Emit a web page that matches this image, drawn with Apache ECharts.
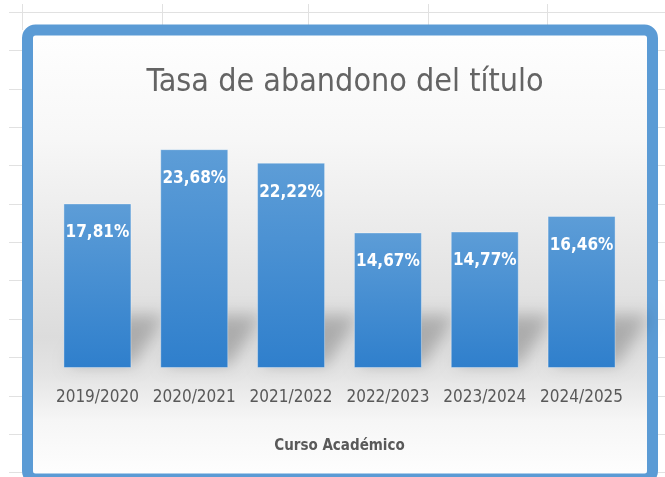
<!DOCTYPE html>
<html>
<head>
<meta charset="utf-8">
<title>Tasa de abandono del título</title>
<script src="https://cdn.jsdelivr.net/npm/echarts@6/dist/echarts.min.js"></script>
<style>
  html, body { margin: 0; padding: 0; background: #ffffff; }
  #container { width: 665px; height: 477px; }
</style>
</head>
<body>
<div id="container"></div>
<script>
var dom = document.getElementById("container");
var myChart = echarts.init(dom);

// datos del gráfico
var cursos = ['2019/2020', '2020/2021', '2021/2022', '2022/2023', '2023/2024', '2024/2025'];
var tasaAbandono = [17.81, 23.68, 22.22, 14.67, 14.77, 16.46];

var FONT = "'DejaVu Sans Condensed', 'Liberation Sans Narrow', sans-serif";
var GRIS = '#595959';
var BAR_W = 68;

// lineas de la hoja de calculo detras del grafico
var hoja = [];
for (var k = 0; k < 13; k++) {
    var y = Math.round(12 + 38.35 * k) + 0.5;
    hoja.push({ type: 'line', shape: { x1: 9, y1: y, x2: 665, y2: y }, style: { stroke: '#e1e1e1', lineWidth: 1 } });
}
[22, 162, 308, 428, 547].forEach(function (x) {
    hoja.push({ type: 'line', shape: { x1: x + 0.5, y1: 4, x2: x + 0.5, y2: 30 }, style: { stroke: '#e1e1e1', lineWidth: 1 } });
});

// marco azul con degradado de fondo
hoja.push({
    type: 'rect',
    shape: { x: 27.5, y: 30, width: 625, height: 449, r: 8 },
    style: {
        fill: new echarts.graphic.LinearGradient(0, 0, 0, 1, [
            { offset: 0, color: '#ffffff' },
            { offset: 0.25, color: '#f7f7f7' },
            { offset: 0.68, color: '#dcdcdc' },
            { offset: 0.76, color: '#e4e4e4' },
            { offset: 0.86, color: '#f6f6f6' },
            { offset: 1, color: '#ffffff' }
        ]),
        stroke: '#5b9bd5',
        lineWidth: 11
    }
});

option = {
    animation: false,
    backgroundColor: '#ffffff',
    graphic: hoja,
    title: {
        text: 'Tasa de abandono del título',
        left: 340,
        top: 62,
        textAlign: 'center',
        textStyle: { fontFamily: FONT, fontSize: 32, fontWeight: 'normal', color: '#646464' }
    },
    grid: { left: 49, right: 35, top: 137, bottom: 109 },
    xAxis: {
        type: 'category',
        data: cursos,
        axisLine: { show: false },
        axisTick: { show: false },
        axisLabel: { fontFamily: FONT, fontSize: 17, color: GRIS, margin: 21, interval: 0 },
        name: 'Curso Académico',
        nameLocation: 'middle',
        nameGap: 71,
        nameTextStyle: { fontFamily: FONT, fontSize: 15, fontWeight: 'bold', color: GRIS }
    },
    yAxis: {
        type: 'value',
        min: 0,
        max: 25,
        show: false
    },
    series: [{
        // sombra en perspectiva de cada barra (solo se ve la sombra difuminada)
        type: 'custom',
        silent: true,
        z: 1,
        data: tasaAbandono.map(function (v, i) { return [i, v]; }),
        encode: { x: 0, y: 1 },
        renderItem: function (params, api) {
            var base = api.coord([api.value(0), 0]);
            var x0 = base[0] - BAR_W / 2 - 700;
            var yb = base[1] - 3;
            var h = 50;
            var skew = 34;
            return {
                type: 'polygon',
                shape: {
                    points: [
                        [x0 + 4, yb],
                        [x0 + BAR_W + 2, yb],
                        [x0 + BAR_W + skew, yb - h],
                        [x0 + skew, yb - h]
                    ]
                },
                style: {
                    fill: '#000',
                    shadowBlur: 16,
                    shadowOffsetX: 700,
                    shadowOffsetY: 0,
                    shadowColor: 'rgba(0,0,0,0.22)'
                }
            };
        }
    }, {
        name: 'Tasa de abandono',
        type: 'bar',
        z: 3,
        barWidth: BAR_W,
        data: tasaAbandono,
        itemStyle: {
            color: new echarts.graphic.LinearGradient(0, 0, 0, 1, [
                { offset: 0, color: '#5d9dd7' },
                { offset: 1, color: '#2f7fcc' }
            ]),
            borderColor: 'rgba(255,255,255,0.35)',
            borderWidth: 1
        },
        label: {
            show: true,
            position: 'insideTop',
            distance: 21,
            fontFamily: FONT,
            fontSize: 17,
            fontWeight: 'bold',
            color: '#ffffff',
            formatter: function (p) {
                return p.value.toFixed(2).replace('.', ',') + '%';
            }
        }
    }]
};

if (option && typeof option === "object") {
    myChart.setOption(option, true);
}
</script>
</body>
</html>
